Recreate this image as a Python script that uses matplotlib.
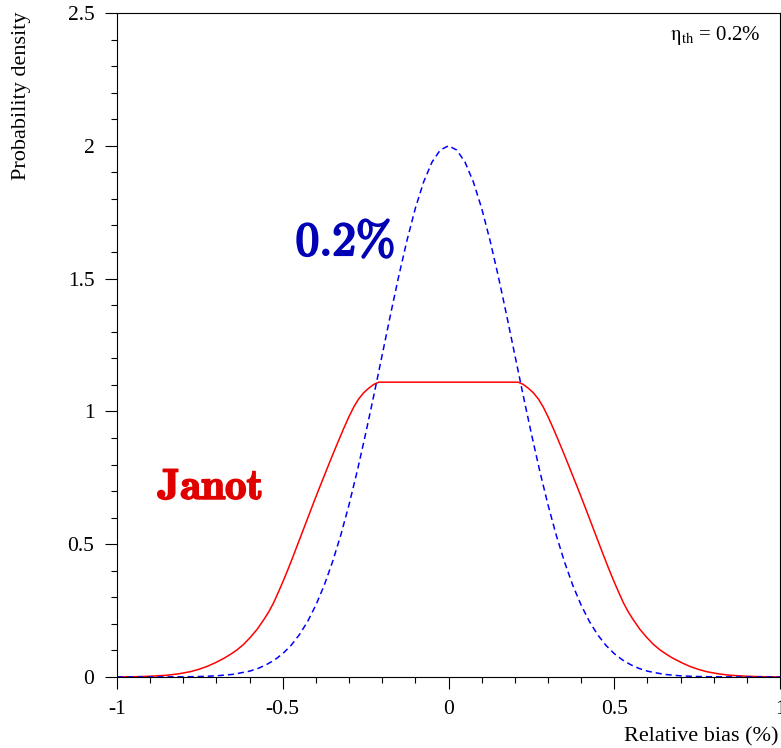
import matplotlib
matplotlib.use('Agg')
import matplotlib.pyplot as plt
import matplotlib.patheffects as pe
from matplotlib.ticker import MultipleLocator

# half curves (x >= 0), mirrored for x < 0
blue_x = [0.0, 0.025, 0.05, 0.075, 0.1, 0.125, 0.15, 0.175, 0.2, 0.225, 0.25, 0.275,
          0.3, 0.325, 0.35, 0.375, 0.4, 0.425, 0.45, 0.475, 0.5, 0.525, 0.55, 0.575,
          0.6, 0.65, 0.7, 0.75, 0.8, 0.9, 1.0]
blue_y = [2.0, 1.984, 1.938, 1.864, 1.765, 1.645, 1.510, 1.364, 1.213, 1.062, 0.916, 0.777,
          0.649, 0.534, 0.433, 0.345, 0.271, 0.209, 0.159, 0.119, 0.088, 0.064, 0.046, 0.032,
          0.022, 0.010, 0.0044, 0.0018, 0.0007, 0.0001, 0.0]

red_x = [0.0, 0.21, 0.225, 0.241, 0.256, 0.271, 0.286, 0.301, 0.316, 0.331, 0.346, 0.361,
         0.376, 0.392, 0.407, 0.422, 0.437, 0.452, 0.467, 0.482, 0.497, 0.512, 0.527,
         0.541, 0.556, 0.577, 0.598, 0.618, 0.638, 0.658, 0.678, 0.703, 0.728, 0.753,
         0.779, 0.814, 0.85, 0.9, 0.95, 1.0]
red_y = [1.11, 1.11, 1.102, 1.087, 1.07, 1.047, 1.016, 0.978, 0.936, 0.892, 0.847, 0.801,
         0.754, 0.704, 0.656, 0.607, 0.558, 0.509, 0.460, 0.412, 0.366, 0.323, 0.281,
         0.248, 0.218, 0.180, 0.149, 0.123, 0.102, 0.085, 0.070, 0.054, 0.040, 0.029,
         0.020, 0.012, 0.0065, 0.0028, 0.001, 0.0003]

x_ticks = [-1, -0.5, 0, 0.5, 1]
x_labels = ['-1', '-0.5', '0', '0.5', '1']
y_ticks = [0, 0.5, 1, 1.5, 2, 2.5]
y_labels = ['0', '0.5', '1', '1.5', '2', '2.5']

def mirror(xs, ys):
    return [-v for v in xs[::-1]] + xs[1:], ys[::-1] + ys[1:]

bx, by = mirror(blue_x, blue_y)
rx, ry = mirror(red_x, red_y)

plt.rcParams['font.family'] = ['Liberation Serif', 'DejaVu Serif']

fig = plt.figure(figsize=(7.81, 7.48), dpi=100)
ax = fig.add_axes([117/781, 71/748, 663/781, 664/748])

ax.plot(rx, ry, color='#ff0000', linewidth=1.1)
ax.plot(bx, by, color='#0000ff', linewidth=1.1, dashes=(4, 2.6))

ax.set_xlim(-1, 1)
ax.set_ylim(0, 2.5)
ax.set_xticks(x_ticks)
ax.set_xticklabels(x_labels)
ax.set_yticks(y_ticks)
ax.set_yticklabels(y_labels)
ax.xaxis.set_minor_locator(MultipleLocator(0.1))
ax.yaxis.set_minor_locator(MultipleLocator(0.1))
ax.tick_params(which='major', direction='out', length=8.3, width=0.8, labelsize=15.5, pad=8)
ax.tick_params(which='minor', direction='out', length=4.3, width=0.8)
for s in ax.spines.values():
    s.set_linewidth(0.8)

fig.text(22/781, 1 - 12/748, 'Probability density', rotation=90, ha='center', va='top', fontsize=16)
fig.text(779/781, 1 - 737/748, 'Relative bias (%)', ha='right', va='center', fontsize=16)

ax.text(-0.312, 1.589, r'$\mathbf{0.2\%}$', color='#0000b4', fontsize=34,
        ha='center', va='baseline', math_fontfamily='cm',
        path_effects=[pe.withStroke(linewidth=1.6, foreground='#0000b4')])
ax.text(-0.718, 0.670, r'$\mathbf{Janot}$', color='#e00000', fontsize=31,
        ha='center', va='baseline', math_fontfamily='cm',
        path_effects=[pe.withStroke(linewidth=1.2, foreground='#e00000')])
fig.text(760/781, 1 - 40/748, r'$\mathrm{\eta_{th}}$ = 0.2%', ha='right', va='baseline',
         fontsize=15, math_fontfamily='stix')

fig.savefig('out.png', dpi=100)
